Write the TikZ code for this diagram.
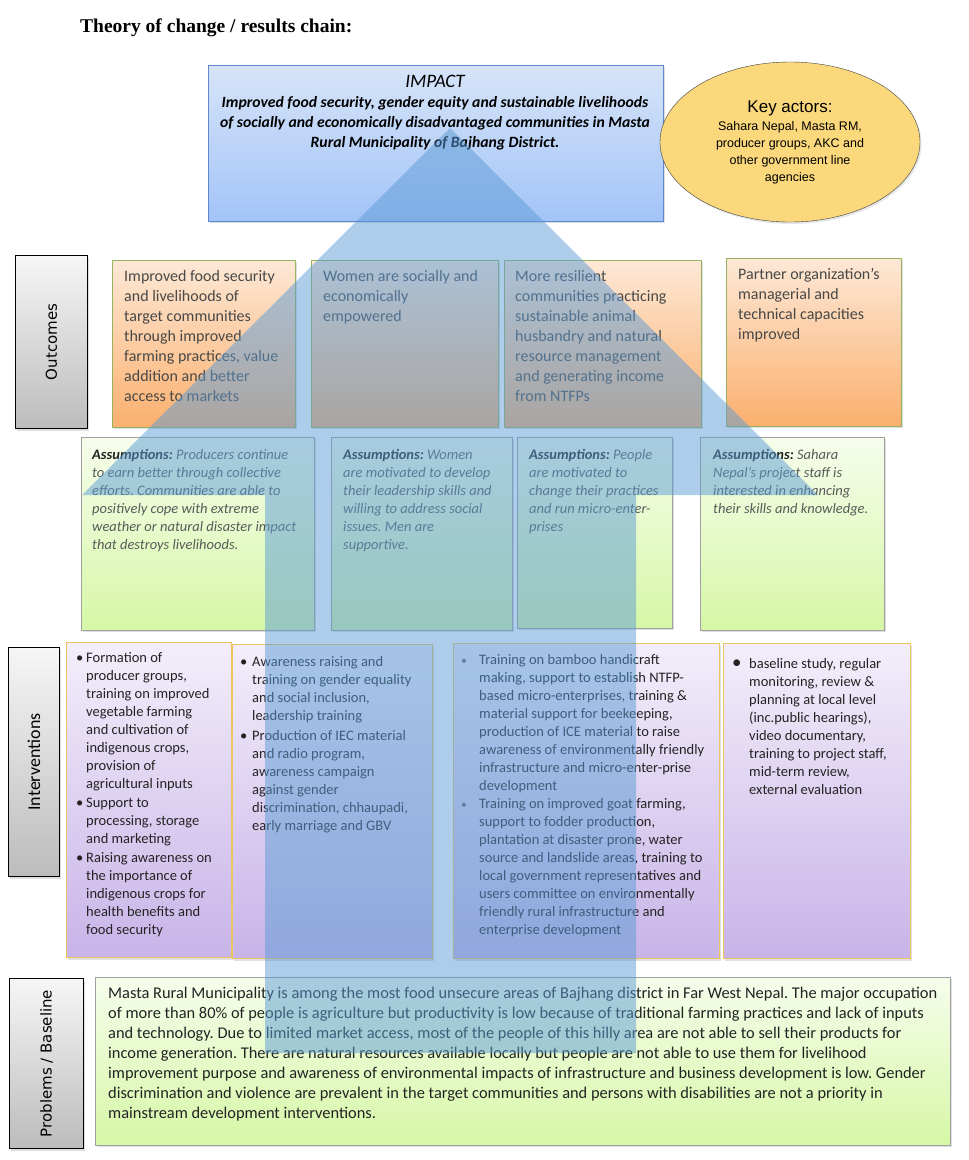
\documentclass[tikz,border=0pt]{standalone}
\usepackage{fontspec}
\usepackage{graphicx}
\setmainfont{Carlito}
\newfontfamily\arialfont{Liberation Sans}
\newfontfamily\timesfont{Liberation Serif}
\newfontfamily\verdanafont{DejaVu Sans}
\usetikzlibrary{shapes.geometric, shadows}
\frenchspacing

\definecolor{impacttop}{RGB}{214,228,248}
\definecolor{impactbot}{RGB}{163,196,248}
\definecolor{impactline}{RGB}{95,135,205}
\definecolor{actorfill}{RGB}{251,216,124}
\definecolor{outtop}{RGB}{253,232,214}
\definecolor{outbot}{RGB}{251,176,110}
\definecolor{outborder}{RGB}{150,180,95}
\definecolor{asstop}{RGB}{246,253,236}
\definecolor{assbot}{RGB}{214,247,166}
\definecolor{assborder}{RGB}{160,160,160}
\definecolor{inttop}{RGB}{243,238,250}
\definecolor{intbot}{RGB}{200,180,232}
\definecolor{intborder}{RGB}{236,196,96}
\definecolor{sidetop}{RGB}{246,246,246}
\definecolor{sidebot}{RGB}{188,188,188}
\definecolor{arrowblue}{RGB}{91,155,213}
\definecolor{txtgray}{RGB}{72,72,72}
\definecolor{asstext}{RGB}{90,90,90}
\definecolor{asshead}{RGB}{35,35,35}
\definecolor{inttext}{RGB}{35,35,35}

\begin{document}
\begin{tikzpicture}[x=1pt, y=-1pt,
    box/.style={rectangle, inner sep=0pt, anchor=north west, drop shadow={shadow xshift=1.5pt, shadow yshift=-2pt, opacity=0.25}},
    impact box/.style={box, draw=impactline, top color=impacttop, bottom color=impactbot},
    outcome box/.style={box, draw=outborder, top color=outtop, bottom color=outbot},
    assume box/.style={box, draw=assborder, top color=asstop, bottom color=assbot},
    action box/.style={box, draw=intborder, line width=1.2pt, top color=inttop, bottom color=intbot},
    side box/.style={box, draw=black, line width=1pt, top color=sidetop, bottom color=sidebot},
    outcome text/.style={anchor=north west, inner sep=0pt, align=left, text=txtgray, font=\fontsize{16}{20}\selectfont},
    assume text/.style={anchor=north west, inner sep=0pt, align=left, text=asstext, font=\fontsize{14.5}{18}\selectfont\itshape},
    action text/.style={anchor=north west, inner sep=0pt, text=inttext, font=\fontsize{14.5}{18}\selectfont},
    big arrow/.style={fill=arrowblue, fill opacity=0.5}]
                \useasboundingbox (0,0) rectangle (969,1160);
                \node[anchor=west, inner sep=0pt, font=\timesfont\bfseries\fontsize{19.5}{22}\selectfont] at (80,28) (title) {Theory of change / results chain:};

                \node[impact box, minimum width=455pt, minimum height=156pt] at (208,65) (impact) {};
                \node[anchor=north, inner sep=0pt, align=center, font=\fontsize{15.7}{20}\selectfont\itshape] at (435,75) (impactt)
                    {{\fontsize{19}{20}\selectfont IMPACT}\\
                     \bfseries Improved food security, gender equity and sustainable livelihoods\\
                     \bfseries of socially and economically disadvantaged communities in Masta\\
                     \bfseries Rural Municipality of Bajhang District.};
                \node[ellipse, draw=black!75, fill=actorfill, minimum width=260pt, minimum height=160pt, inner sep=0pt, align=center,
                      drop shadow={shadow xshift=1.5pt, shadow yshift=-2pt, opacity=0.2}, font=\arialfont\fontsize{12.5}{17}\selectfont] at (790,142) (actors)
                    {{\fontsize{17}{18}\selectfont Key actors:}\\[1pt] Sahara Nepal, Masta RM,\\ producer groups, AKC and\\ other government line\\ agencies};

                \node[side box, minimum width=72pt, minimum height=173pt, font=\verdanafont\fontsize{15}{18}\selectfont] at (15,255) (outlab) {\rotatebox{90}{Outcomes}};
                \node[outcome box, minimum width=183pt, minimum height=167pt] at (112,260) (out1) {};
                \node[outcome box, minimum width=187pt, minimum height=167pt] at (311,260) (out2) {};
                \node[outcome box, minimum width=197pt, minimum height=167pt] at (504,260) (out3) {};
                \node[outcome box, minimum width=175pt, minimum height=168pt] at (726,258) (out4) {};
                \node[outcome text] at (124,270) (out1t) {Improved food security\\ and livelihoods of\\ target communities\\ through improved\\ farming practices, value\\ addition and better\\ access to markets};
                \node[outcome text] at (323,270) (out2t) {Women are socially and\\ economically\\ empowered};
                \node[outcome text] at (515,270) (out3t) {More resilient\\ communities practicing\\ sustainable animal\\ husbandry and natural\\ resource management\\ and generating income\\ from NTFPs};
                \node[outcome text] at (738,268) (out4t) {Partner organization's\\ managerial and\\ technical capacities\\ improved};

                \node[assume box, minimum width=233pt, minimum height=193pt] at (81,437) (ass1) {};
                \node[assume box, minimum width=181pt, minimum height=193pt] at (331,437) (ass2) {};
                \node[assume box, minimum width=155pt, minimum height=191pt] at (517,437) (ass3) {};
                \node[assume box, minimum width=184pt, minimum height=193pt] at (700,437) (ass4) {};
                \node[assume text] at (92,449) (ass1t) {\textbf{\color{asshead}Assumptions:} Producers continue\\ to earn better through collective\\ efforts. Communities are able to\\ positively cope with extreme\\ weather or natural disaster impact\\ that destroys livelihoods.};
                \node[assume text] at (343,449) (ass2t) {\textbf{\color{asshead}Assumptions:} Women\\ are motivated to develop\\ their leadership skills and\\ willing to address social\\ issues. Men are\\ supportive.};
                \node[assume text] at (529,449) (ass3t) {\textbf{\color{asshead}Assumptions:} People\\ are motivated to\\ change their practices\\ and run micro-enter-\\ prises};
                \node[assume text] at (713,449) (ass4t) {\textbf{\color{asshead}Assumptions:} Sahara\\ Nepal’s project staff is\\ interested in enhancing\\ their skills and knowledge.};

                \node[side box, minimum width=51pt, minimum height=229pt, font=\fontsize{18}{20}\selectfont] at (8,647) (intlab) {\rotatebox{90}{Interventions}};
                \node[action box, minimum width=165pt, minimum height=315pt] at (66,642) (int1) {};
                \node[action box, minimum width=200pt, minimum height=314pt] at (232,644) (int2) {};
                \node[action box, minimum width=266pt, minimum height=315pt] at (453,643) (int3) {};
                \node[action box, minimum width=187pt, minimum height=315pt] at (723,643) (int4) {};
                \node[action text] at (76,650) (int1t) {\begin{tabular}{@{}p{10pt}@{}l@{}}
                    \textbullet & Formation of\\ & producer groups,\\ & training on improved\\ & vegetable farming\\ & and cultivation of\\ & indigenous crops,\\ & provision of\\ & agricultural inputs\\[1pt]
                    \textbullet & Support to\\ & processing, storage\\ & and marketing\\[1pt]
                    \textbullet & Raising awareness on\\ & the importance of\\ & indigenous crops for\\ & health benefits and\\ & food security
                    \end{tabular}};
                \node[action text] at (240,654) (int2t) {\begin{tabular}{@{}p{12pt}@{}l@{}}
                    \textbullet & Awareness raising and\\ & training on gender equality\\ & and social inclusion,\\ & leadership training\\[2pt]
                    \textbullet & Production of IEC material\\ & and radio program,\\ & awareness campaign\\ & against gender\\ & discrimination, chhaupadi,\\ & early marriage and GBV
                    \end{tabular}};
                \node[action text] at (461,652) (int3t) {\begin{tabular}{@{}p{18pt}@{}l@{}}
                    \leavevmode{\color{black!60}\scalebox{0.8}{\textbullet}} & Training on bamboo handicraft\\ & making, support to establish NTFP-\\ & based micro-enterprises, training \&\\ & material support for beekeeping,\\ & production of ICE material to raise\\ & awareness of environmentally friendly\\ & infrastructure and micro-enter-prise\\ & development\\
                    \leavevmode{\color{black!60}\scalebox{0.8}{\textbullet}} & Training on improved goat farming,\\ & support to fodder production,\\ & plantation at disaster prone, water\\ & source and landslide areas, training to\\ & local government representatives and\\ & users committee on environmentally\\ & friendly rural infrastructure and\\ & enterprise development
                    \end{tabular}};
                \node[action text] at (732,656) (int4t) {\begin{tabular}{@{}p{17pt}@{}l@{}}
                    \scalebox{1.3}{\textbullet} & baseline study, regular\\ & monitoring, review \&\\ & planning at local level\\ & (inc.public hearings),\\ & video documentary,\\ & training to project staff,\\ & mid-term review,\\ & external evaluation
                    \end{tabular}};

                \node[side box, minimum width=74pt, minimum height=170pt, font=\verdanafont\fontsize{15}{18}\selectfont] at (9,978) (problab) {\rotatebox{90}{Problems / Baseline}};
                \node[assume box, minimum width=855pt, minimum height=168pt] at (95,977) (prob) {};
                \node[anchor=north west, inner sep=0pt, align=left, text=inttext, font=\fontsize{16.4}{20}\selectfont] at (108,987) (probt)
                    {Masta Rural Municipality is among the most food unsecure areas of Bajhang district in Far West Nepal. The major occupation\\
                     of more than 80\% of people is agriculture but productivity is low because of traditional farming practices and lack of inputs\\
                     and technology. Due to limited market access, most of the people of this hilly area are not able to sell their products for\\
                     income generation. There are natural resources available locally but people are not able to use them for livelihood\\
                     improvement purpose and awareness of environmental impacts of infrastructure and business development is low. Gender\\
                     discrimination and violence are prevalent in the target communities and persons with disabilities are not a priority in\\
                     mainstream development interventions.};

                \fill[big arrow] (265,1053) -- (265,495) -- (82,495) -- (450,128) -- (818,495) -- (636,495) -- (636,1053) -- cycle;
            \end{tikzpicture}
\end{document}
